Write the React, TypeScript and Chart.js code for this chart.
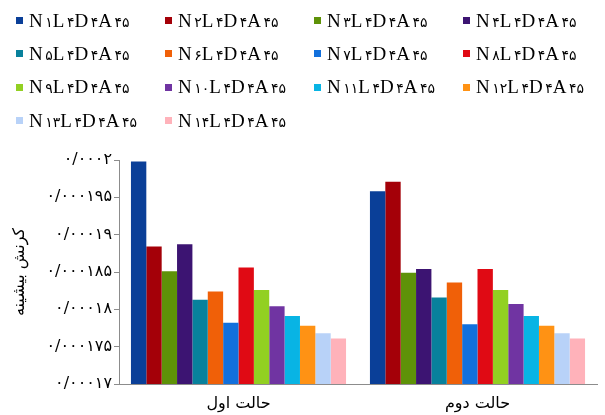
import React, { useEffect, useRef } from "react";
import { Chart, registerables } from "chart.js";

Chart.register(...registerables);

const categories = ["حالت اول", "حالت دوم"];

const seriesNames = [
  "N۱L۴D۴A۴۵", "N۲L۴D۴A۴۵", "N۳L۴D۴A۴۵", "N۴L۴D۴A۴۵",
  "N۵L۴D۴A۴۵", "N۶L۴D۴A۴۵", "N۷L۴D۴A۴۵", "N۸L۴D۴A۴۵",
  "N۹L۴D۴A۴۵", "N۱۰L۴D۴A۴۵", "N۱۱L۴D۴A۴۵", "N۱۲L۴D۴A۴۵",
  "N۱۳L۴D۴A۴۵", "N۱۴L۴D۴A۴۵",
];

const seriesColors = [
  "#0a3f98", "#a40008", "#5e9208", "#3c1472",
  "#08819c", "#f06008", "#1270dc", "#e00a14",
  "#92d022", "#7034a2", "#08b4e4", "#ff9214",
  "#b8d2f8", "#ffb2ba",
];

// values for "حالت اول"
const caseOne = [
  0.0001998, 0.0001884, 0.0001851, 0.0001887, 0.0001813, 0.0001824, 0.0001782,
  0.0001856, 0.0001826, 0.0001804, 0.0001791, 0.0001778, 0.0001768, 0.0001761,
];

// values for "حالت دوم"
const caseTwo = [
  0.0001958, 0.0001971, 0.0001849, 0.0001854, 0.0001816, 0.0001836, 0.000178,
  0.0001854, 0.0001826, 0.0001807, 0.0001791, 0.0001778, 0.0001768, 0.0001761,
];

const yTickValues = [0.00017, 0.000175, 0.00018, 0.000185, 0.00019, 0.000195, 0.0002];
const yTickLabels = ["۰/۰۰۰۱۷", "۰/۰۰۰۱۷۵", "۰/۰۰۰۱۸", "۰/۰۰۰۱۸۵", "۰/۰۰۰۱۹", "۰/۰۰۰۱۹۵", "۰/۰۰۰۲"];
const yTitle = "کرنش بیشینه";

const persianFont = "'DejaVu Sans', 'Noto Sans', sans-serif";
const legendFont = "'Liberation Serif', 'DejaVu Sans', serif";

function splitRuns(text: string) {
  return text.split(/([۰-۹]+)/).filter((t) => t.length > 0);
}

export default function App() {
  const canvasRef = useRef<HTMLCanvasElement | null>(null);

  useEffect(() => {
    const canvas = canvasRef.current;
    if (!canvas) return;
    const chart = new Chart(canvas, {
      type: "bar",
      data: {
        labels: categories,
        datasets: seriesNames.map((name, i) => ({
          label: name,
          data: [caseOne[i], caseTwo[i]],
          backgroundColor: seriesColors[i],
          borderWidth: 0,
          categoryPercentage: 0.9,
          barPercentage: 1.0,
        })),
      },
      options: {
        responsive: false,
        animation: false,
        layout: { padding: { left: 0, top: 160, right: 8, bottom: 0 } },
        plugins: {
          legend: { display: false },
          tooltip: { enabled: false },
        },
        scales: {
          x: {
            grid: { display: false },
            border: { display: true, color: "#8c8c8c", width: 1 },
            ticks: {
              color: "#000",
              font: { family: persianFont, size: 16 },
              padding: 2,
            },
            afterFit: (s: any) => {
              s.height = 31;
            },
          },
          y: {
            min: 0.00017,
            max: 0.0002,
            afterBuildTicks: (s: any) => {
              s.ticks = yTickValues.map((v) => ({ value: v }));
            },
            ticks: {
              color: "#000",
              font: { family: persianFont, size: 16 },
              padding: 2,
              callback: (_v: any, i: number) => yTickLabels[i],
            },
            grid: { drawOnChartArea: false, tickLength: 5, color: "#8c8c8c" },
            border: { display: true, color: "#8c8c8c", width: 1 },
            title: {
              display: true,
              text: yTitle,
              color: "#000",
              font: { family: persianFont, size: 16 },
              padding: { top: 10, bottom: 0 },
            },
            afterFit: (s: any) => {
              s.width = 119;
            },
          },
        },
      },
    });
    return () => chart.destroy();
  }, []);

  return (
    <div style={{ position: "absolute", left: 0, top: 0, width: 605, height: 415, background: "#fff", overflow: "hidden" }}>
      <canvas ref={canvasRef} width={605} height={415} style={{ position: "absolute", left: 0, top: 0 }} />
      <div
        style={{
          position: "absolute",
          left: 16,
          top: 4,
          display: "grid",
          gridTemplateColumns: "repeat(4, 149px)",
          gridAutoRows: "33.3px",
        }}
      >
        {seriesNames.map((name, i) => (
          <div
            key={name}
            style={{
              display: "flex",
              alignItems: "center",
              whiteSpace: "nowrap",
              fontFamily: legendFont,
              fontSize: 19,
              letterSpacing: 2.5,
              color: "#000",
            }}
          >
            <span style={{ width: 7, height: 7, background: seriesColors[i], marginRight: 6, flex: "none" }} />
            <span>
              {splitRuns(name).map((run, k) =>
                /[۰-۹]/.test(run) ? (
                  <span key={k} style={{ fontFamily: persianFont, fontSize: 14 }}>
                    {run}
                  </span>
                ) : (
                  <span key={k}>{run}</span>
                )
              )}
            </span>
          </div>
        ))}
      </div>
    </div>
  );
}
